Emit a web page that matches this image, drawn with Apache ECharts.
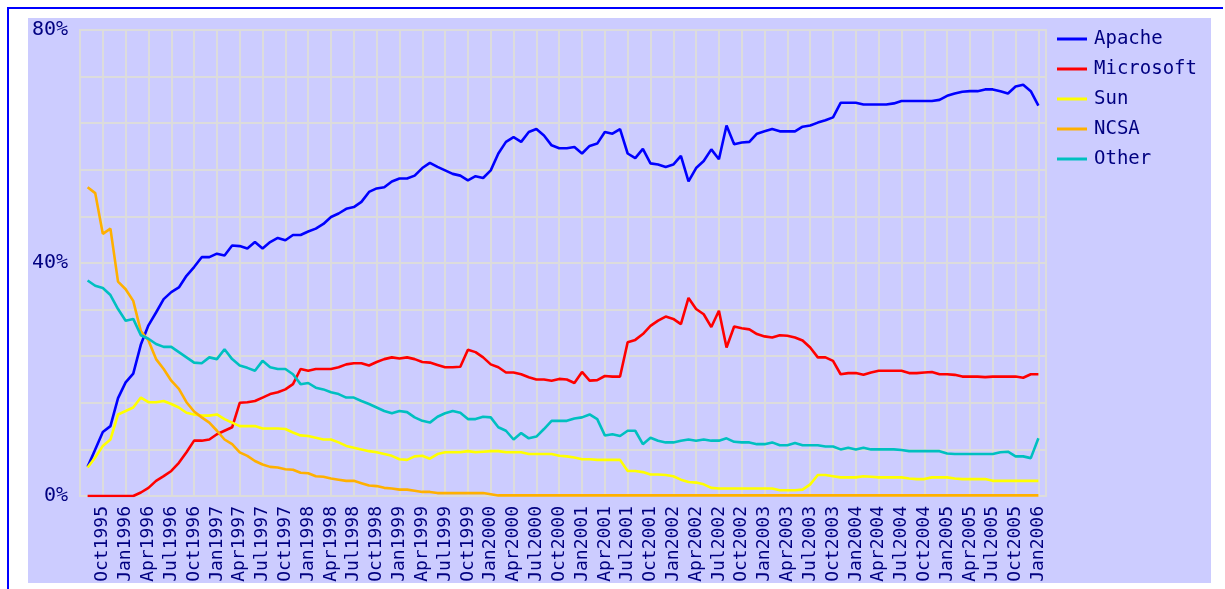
<!DOCTYPE html>
<html>
<head>
<meta charset="utf-8">
<title>Web server market share 1995-2006</title>
<script src="https://cdn.jsdelivr.net/npm/echarts@6/dist/echarts.min.js"></script>
<style>
  html, body { margin: 0; padding: 0; background: #fff; overflow: hidden; }
  #frame { position: absolute; left: 7px; top: 7px; width: 1214px; height: 600px;
           border-top: 2px solid #0000ff; border-left: 2px solid #0000ff; }
  #panel { position: absolute; left: 28px; top: 18px; width: 1183px; height: 565px; background: #ccccff; }
  #chart { position: absolute; left: 0; top: 0; width: 1225px; height: 589px; }
</style>
</head>
<body>
<div id="frame"></div>
<div id="panel"></div>
<div id="chart"></div>
<script>
// monthly survey, Aug1995 .. Jan2006 (126 points)
var monthNames = ["Jan", "Feb", "Mar", "Apr", "May", "Jun", "Jul", "Aug", "Sep", "Oct", "Nov", "Dec"];

var apache = [
  5.0, 8.0, 11.0, 12.0, 16.8, 19.5, 21.0, 26.0, 29.3, 31.5,
  33.8, 35.0, 35.8, 37.8, 39.3, 41.0, 41.0, 41.6, 41.3, 43.0,
  42.9, 42.5, 43.6, 42.5, 43.6, 44.3, 43.9, 44.8, 44.8, 45.4,
  45.9, 46.7, 47.9, 48.5, 49.3, 49.6, 50.5, 52.2, 52.8, 53.0,
  54.0, 54.5, 54.5, 55.0, 56.3, 57.2, 56.5, 55.9, 55.3, 55.0,
  54.2, 54.9, 54.6, 55.9, 58.8, 60.8, 61.6, 60.8, 62.5, 63.0,
  61.9, 60.2, 59.7, 59.7, 59.9, 58.8, 60.1, 60.5, 62.5, 62.2,
  63.0, 58.8, 58.0, 59.6, 57.1, 56.9, 56.5, 56.9, 58.4, 54.0,
  56.3, 57.5, 59.5, 57.8, 63.6, 60.4, 60.7, 60.8, 62.2, 62.6,
  63.0, 62.6, 62.6, 62.6, 63.4, 63.6, 64.1, 64.5, 65.0, 67.5,
  67.5, 67.5, 67.2, 67.2, 67.2, 67.2, 67.4, 67.8, 67.8, 67.8,
  67.8, 67.8, 68.0, 68.7, 69.1, 69.4, 69.5, 69.5, 69.8, 69.8,
  69.5, 69.1, 70.3, 70.6, 69.5, 67.0
];

var microsoft = [
  0, 0, 0, 0, 0, 0, 0, 0.6, 1.4, 2.6,
  3.4, 4.3, 5.7, 7.5, 9.5, 9.5, 9.7, 10.6, 11.2, 11.8,
  16.0, 16.1, 16.3, 16.9, 17.5, 17.8, 18.3, 19.2, 21.8, 21.5,
  21.8, 21.8, 21.8, 22.1, 22.6, 22.8, 22.8, 22.4, 23.0, 23.5,
  23.8, 23.6, 23.8, 23.5, 23.0, 22.9, 22.5, 22.1, 22.1, 22.2,
  25.1, 24.7, 23.8, 22.6, 22.1, 21.2, 21.2, 20.9, 20.4, 20.0,
  20.0, 19.8, 20.1, 20.0, 19.4, 21.3, 19.8, 19.9, 20.6, 20.5,
  20.5, 26.4, 26.8, 27.8, 29.2, 30.1, 30.8, 30.4, 29.5, 34.0,
  32.1, 31.2, 29.0, 31.8, 25.5, 29.1, 28.8, 28.6, 27.8, 27.4,
  27.2, 27.6, 27.5, 27.2, 26.7, 25.5, 23.8, 23.8, 23.2, 20.9,
  21.1, 21.1, 20.8, 21.2, 21.5, 21.5, 21.5, 21.5, 21.1, 21.1,
  21.2, 21.3, 20.9, 20.9, 20.8, 20.5, 20.5, 20.5, 20.4, 20.5,
  20.5, 20.5, 20.5, 20.3, 20.9, 20.9
];

var sun = [
  4.9, 6.6, 8.6, 9.7, 14.0, 14.6, 15.2, 16.9, 16.1, 16.1,
  16.3, 15.8, 15.2, 14.3, 14.0, 13.8, 13.8, 14.0, 13.2, 12.6,
  12.0, 12.0, 12.0, 11.6, 11.6, 11.6, 11.5, 10.9, 10.4, 10.3,
  10.0, 9.7, 9.7, 9.2, 8.6, 8.3, 8.0, 7.7, 7.5, 7.2,
  6.9, 6.3, 6.2, 6.8, 6.9, 6.4, 7.2, 7.5, 7.5, 7.5,
  7.7, 7.5, 7.6, 7.7, 7.7, 7.5, 7.5, 7.5, 7.2, 7.2,
  7.2, 7.2, 6.9, 6.8, 6.6, 6.3, 6.3, 6.2, 6.2, 6.2,
  6.2, 4.3, 4.3, 4.1, 3.7, 3.7, 3.6, 3.4, 2.8, 2.4,
  2.3, 2.0, 1.4, 1.3, 1.3, 1.3, 1.3, 1.3, 1.3, 1.3,
  1.3, 1.0, 1.0, 1.0, 1.1, 2.0, 3.6, 3.6, 3.4, 3.2,
  3.2, 3.2, 3.4, 3.3, 3.2, 3.2, 3.2, 3.2, 3.0, 2.9,
  2.9, 3.2, 3.2, 3.2, 3.0, 2.9, 2.9, 2.9, 2.9, 2.6,
  2.6, 2.6, 2.6, 2.6, 2.6, 2.6
];

var ncsa = [
  53.0, 52.0, 45.0, 45.9, 36.8, 35.5, 33.5, 28.3, 26.7, 23.5,
  21.8, 19.8, 18.4, 16.1, 14.5, 13.5, 12.6, 11.2, 9.7, 8.9,
  7.5, 6.9, 6.0, 5.4, 5.0, 4.9, 4.6, 4.5, 4.0, 3.9,
  3.4, 3.3, 3.0, 2.8, 2.6, 2.6, 2.2, 1.8, 1.7, 1.4,
  1.3, 1.1, 1.1, 0.9, 0.7, 0.7, 0.5, 0.5, 0.5, 0.5,
  0.5, 0.5, 0.5, 0.3, 0.1, 0.1, 0.1, 0.1, 0.1, 0.1,
  0.1, 0.1, 0.1, 0.1, 0.1, 0.1, 0.1, 0.1, 0.1, 0.1,
  0.1, 0.1, 0.1, 0.1, 0.1, 0.1, 0.1, 0.1, 0.1, 0.1,
  0.1, 0.1, 0.1, 0.1, 0.1, 0.1, 0.1, 0.1, 0.1, 0.1,
  0.1, 0.1, 0.1, 0.1, 0.1, 0.1, 0.1, 0.1, 0.1, 0.1,
  0.1, 0.1, 0.1, 0.1, 0.1, 0.1, 0.1, 0.1, 0.1, 0.1,
  0.1, 0.1, 0.1, 0.1, 0.1, 0.1, 0.1, 0.1, 0.1, 0.1,
  0.1, 0.1, 0.1, 0.1, 0.1, 0.1
];

var other = [
  37.0, 36.1, 35.7, 34.5, 32.1, 30.1, 30.4, 27.6, 27.0, 26.1,
  25.6, 25.6, 24.7, 23.8, 22.9, 22.8, 23.8, 23.5, 25.2, 23.5,
  22.4, 22.0, 21.5, 23.2, 22.1, 21.8, 21.8, 20.9, 19.2, 19.4,
  18.6, 18.3, 17.8, 17.5, 16.9, 16.9, 16.3, 15.8, 15.2, 14.6,
  14.2, 14.6, 14.4, 13.5, 12.9, 12.6, 13.6, 14.2, 14.6, 14.3,
  13.2, 13.2, 13.6, 13.5, 11.8, 11.2, 9.7, 10.8, 9.9, 10.2,
  11.5, 12.9, 12.9, 12.9, 13.3, 13.5, 14.0, 13.2, 10.4, 10.6,
  10.3, 11.2, 11.2, 8.9, 10.0, 9.5, 9.2, 9.2, 9.5, 9.7,
  9.5, 9.7, 9.5, 9.5, 9.9, 9.3, 9.2, 9.2, 8.9, 8.9,
  9.2, 8.7, 8.7, 9.1, 8.7, 8.7, 8.7, 8.5, 8.5, 8.0,
  8.3, 8.0, 8.3, 8.0, 8.0, 8.0, 8.0, 7.9, 7.7, 7.7,
  7.7, 7.7, 7.7, 7.3, 7.2, 7.2, 7.2, 7.2, 7.2, 7.2,
  7.5, 7.6, 6.8, 6.8, 6.5, 9.9
];

var seriesNames = ["Apache", "Microsoft", "Sun", "NCSA", "Other"];
var seriesColors = ["#0000ff", "#ff0000", "#ffff00", "#ffb000", "#00c0c0"];
var yLabels = [0, 40, 80];

// axis runs one month either side of the data: Jul1995 .. Feb2006
var months = [];
for (var y = 1995; y <= 2006; y++) {
  for (var m = 0; m < 12; m++) {
    if (y == 1995 && m < 6) continue;
    if (y == 2006 && m > 1) continue;
    months.push(monthNames[m] + y);
  }
}

var pad = function(arr) {
  return [null].concat(arr, [null]);
};

var labelFont = "DejaVu Sans Mono";
var gridColor = "#dcdcdc";

var myChart = echarts.init(document.getElementById("chart"), null, { renderer: "canvas" });

var option = {
  animation: false,
  textStyle: { fontFamily: labelFont },
  grid: {
    left: 80, right: 179, top: 30, bottom: 93,
    show: true, borderColor: gridColor, borderWidth: 2, backgroundColor: "transparent"
  },
  legend: {
    orient: "vertical",
    left: 1057,
    top: 29,
    padding: 0,
    icon: "rect",
    itemWidth: 30,
    itemHeight: 3,
    itemGap: 10,
    data: seriesNames,
    textStyle: { color: "#000080", fontSize: 19, lineHeight: 20, fontFamily: labelFont, padding: [0, 0, 0, 2] }
  },
  xAxis: {
    type: "category",
    data: months,
    boundaryGap: false,
    axisLine: { show: false },
    axisTick: { show: false },
    axisLabel: {
      rotate: 90,
      margin: 10,
      color: "#000080",
      fontSize: 18,
      fontFamily: labelFont,
      interval: function(idx) { return idx % 3 === 0 && idx > 0; }
    },
    splitLine: {
      show: true,
      interval: function(idx) { return idx % 3 === 0; },
      lineStyle: { color: gridColor, width: 2 }
    }
  },
  yAxis: {
    type: "value",
    min: 0,
    max: 80,
    interval: 8,
    axisLine: { show: false },
    axisTick: { show: false },
    axisLabel: {
      margin: 12,
      color: "#000080",
      fontSize: 20,
      fontFamily: labelFont,
      formatter: function(v) { return yLabels.indexOf(v) >= 0 ? v + "%" : ""; }
    },
    splitLine: { lineStyle: { color: gridColor, width: 2 } }
  },
  series: [apache, microsoft, sun, ncsa, other].map(function(arr, i) {
    return {
      name: seriesNames[i],
      type: "line",
      data: pad(arr),
      showSymbol: false,
      symbol: "none",
      color: seriesColors[i],
      lineStyle: { color: seriesColors[i], width: 2.6 }
    };
  })
};

myChart.setOption(option);
</script>
</body>
</html>
